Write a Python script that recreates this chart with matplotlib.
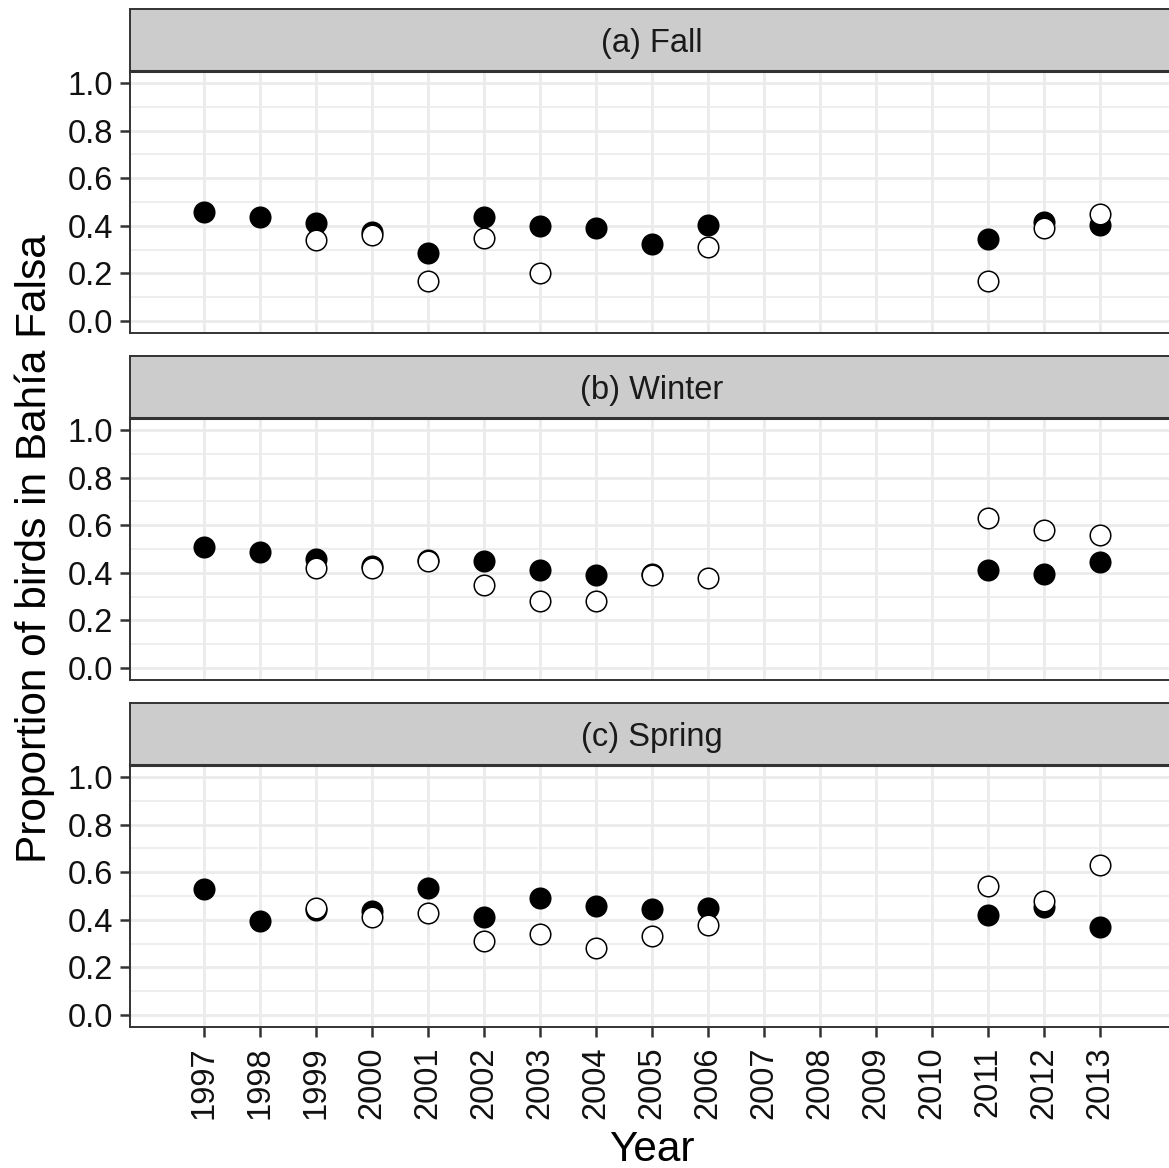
import numpy as np
import matplotlib
matplotlib.use("Agg")
import matplotlib.pyplot as plt
from matplotlib.ticker import MultipleLocator, FormatStrFormatter

plt.rcParams['font.family'] = ['Liberation Sans', 'DejaVu Sans']

nan = np.nan
years = [1997, 1998, 1999, 2000, 2001, 2002, 2003, 2004, 2005, 2006, 2011, 2012, 2013]
tick_years = list(range(1997, 2014))
panel_titles = ["(a) Fall", "(b) Winter", "(c) Spring"]

fall_filled = [0.46, 0.435, 0.41, 0.375, 0.285, 0.435, 0.40, 0.39, 0.325, 0.405, 0.345, 0.415, 0.405]
fall_open = [nan, nan, 0.34, 0.36, 0.17, 0.35, 0.20, nan, nan, 0.31, 0.17, 0.39, 0.45]

winter_filled = [0.51, 0.487, 0.46, 0.43, 0.452, 0.45, 0.41, 0.39, 0.396, nan, 0.41, 0.395, 0.445]
winter_open = [nan, nan, 0.42, 0.42, 0.448, 0.35, 0.28, 0.28, 0.39, 0.38, 0.63, 0.58, 0.56]

spring_filled = [0.53, 0.395, 0.443, 0.435, 0.535, 0.41, 0.49, 0.46, 0.445, 0.45, 0.42, 0.455, 0.37]
spring_open = [nan, nan, 0.45, 0.41, 0.43, 0.31, 0.34, 0.28, 0.33, 0.38, 0.54, 0.48, 0.63]

series = [(fall_filled, fall_open), (winter_filled, winter_open), (spring_filled, spring_open)]

W, H = 1169, 1168
fig = plt.figure(figsize=(W / 100, H / 100), dpi=100)

left_px, right_px = 130, 1174
strip_h = 62
panel_tops = [71, 418, 765]
panel_h = 262

border_col = "#333333"
grid_col = "#EBEBEB"

for i, (title, (filled, opn)) in enumerate(zip(panel_titles, series)):
    top = panel_tops[i]
    ax = fig.add_axes([left_px / W, 1 - (top + panel_h) / H,
                       (right_px - left_px) / W, panel_h / H])
    ax.set_xlim(1995.68, 2014.32)
    ax.set_ylim(-0.05, 1.05)
    ax.set_xticks(tick_years)
    ax.yaxis.set_major_locator(MultipleLocator(0.2))
    ax.yaxis.set_minor_locator(MultipleLocator(0.1))
    ax.yaxis.set_major_formatter(FormatStrFormatter("%.1f"))
    ax.grid(which="major", color=grid_col, lw=2.0, zorder=0)
    ax.grid(which="minor", axis="y", color=grid_col, lw=1.2, zorder=0)
    ax.set_axisbelow(True)
    for sp in ax.spines.values():
        sp.set_color(border_col)
        sp.set_linewidth(1.4)
    ax.tick_params(axis="both", which="major", length=7, width=1.8, color=border_col,
                   labelsize=23.5, pad=5, labelcolor="#111111")
    ax.tick_params(axis="y", which="minor", length=0)
    if i < 2:
        ax.tick_params(axis="x", labelbottom=False, length=0)
    else:
        ax.set_xticklabels([str(y) for y in tick_years], rotation=90)
        ax.tick_params(axis="x", pad=7)
        ax.set_xlabel("Year", fontsize=30.5, labelpad=8)

    ax.plot(years, filled, linestyle="none", marker="o", ms=14.8, mfc="black",
            mec="black", mew=1.1, zorder=3, clip_on=False)
    ax.plot(years, opn, linestyle="none", marker="o", ms=14.8, mfc="white",
            mec="black", mew=1.1, zorder=4, clip_on=False)

    sax = fig.add_axes([left_px / W, 1 - top / H, (right_px - left_px) / W, strip_h / H])
    sax.set_facecolor("#CCCCCC")
    sax.set_xticks([])
    sax.set_yticks([])
    for sp in sax.spines.values():
        sp.set_color(border_col)
        sp.set_linewidth(1.4)
    sax.spines["bottom"].set_linewidth(2.2)
    sax.text(0.5, 0.44, title, ha="center", va="center", fontsize=23.5,
             color="#1a1a1a", transform=sax.transAxes)

fig.text(35 / W, 1 - 549 / H, "Proportion of birds in Bahía Falsa", rotation=90,
         ha="center", va="center", fontsize=30.5)

fig.savefig("out.png", dpi=100)
